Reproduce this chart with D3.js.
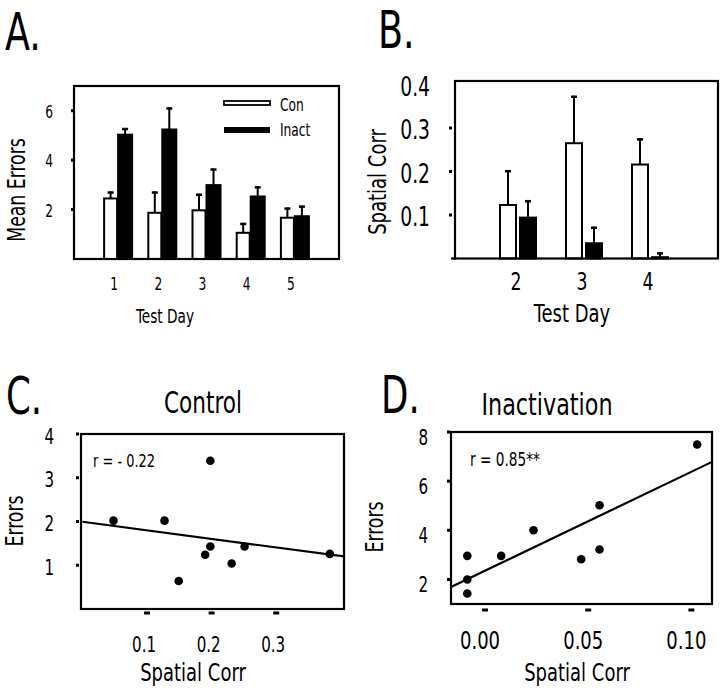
<!DOCTYPE html>
<html><head><meta charset="utf-8">
<script src="https://cdn.jsdelivr.net/npm/d3@7"></script>
<style>
body{margin:0;background:#fff}
text{font-family:"Liberation Sans Narrow","DejaVu Sans Condensed","Arial Narrow",sans-serif;fill:#000}
</style>
</head><body>
<svg id="chart" width="720" height="699"></svg>
<script>
// ---- Panel A data ----
const daysA = ["1","2","3","4","5"];
const conA = [2.45, 1.87, 1.97, 1.06, 1.67];
const conAErr = [0.28, 0.86, 0.67, 0.40, 0.41];
const inactA = [5.03, 5.24, 2.99, 2.53, 1.73];
const inactAErr = [0.27, 0.89, 0.67, 0.41, 0.43];
const yTicksA = [2, 4, 6];
const legendA = ["Con", "Inact"];

// ---- Panel B data ----
const daysB = ["2","3","4"];
const conB = [0.123, 0.265, 0.216];
const conBErr = [0.080, 0.109, 0.060];
const inactB = [0.094, 0.035, 0.003];
const inactBErr = [0.040, 0.038, 0.011];
const yTicksB = [0.1, 0.2, 0.3, 0.4];

// ---- Panel C data (Control) ----
const ctrlX = [0.048, 0.127, 0.149, 0.190, 0.198, 0.198, 0.231, 0.251, 0.383];
const ctrlY = [2.02, 2.02, 0.64, 1.24, 1.43, 3.39, 1.04, 1.43, 1.26];
const xTicksC = [0.1, 0.2, 0.3];
const yTicksC = [1, 2, 3, 4];

// ---- Panel D data (Inactivation) ----
const inX = [-0.0086, -0.0086, -0.0086, 0.0078, 0.0235, 0.0466, 0.0555, 0.0555, 0.1028];
const inY = [2.96, 2.00, 1.43, 2.96, 4.00, 2.82, 3.22, 5.02, 7.49];
const xTicksD = [0.00, 0.05, 0.10];
const yTicksD = [2, 4, 6, 8];

const svg = d3.select("#chart");
const SX = 0.8;

function txt(s, x, y, size, opt = {}) {
  const anchor = opt.anchor || "middle";
  const sx = opt.sx || SX;
  let tr = `translate(${x},${y})`;
  if (opt.rotate) tr += ` rotate(${opt.rotate})`;
  tr += ` scale(${sx},1)`;
  return svg.append("text").attr("transform", tr)
    .attr("text-anchor", anchor).attr("font-size", size).text(s);
}
// center-y based text: baseline = cy + 0.36*size
function ctxt(s, x, cy, size, opt) { return txt(s, x, cy + 0.36 * size, size, opt); }

function frame(x0, x1, y0, y1) {
  svg.append("rect").attr("x", x0).attr("y", y0).attr("width", x1 - x0).attr("height", y1 - y0)
    .attr("fill", "none").attr("stroke", "#000").attr("stroke-width", 2.2);
}

function regression(xs, ys) {
  const mx = d3.mean(xs), my = d3.mean(ys);
  let sxy = 0, sxx = 0;
  xs.forEach((x, i) => { sxy += (x - mx) * (ys[i] - my); sxx += (x - mx) * (x - mx); });
  const b = sxy / sxx;
  return { b, a: my - b * mx };
}

function bars(g, cats, vals, errs, xs, ys, off, w, filled) {
  cats.forEach((c, i) => {
    const x0 = xs(c) + xs.bandwidth() / 2 + off;
    const yTop = ys(vals[i]);
    const yBase = ys(0);
    const cx = x0 + w / 2;
    const yErr = ys(vals[i] + errs[i]);
    g.append("line").attr("x1", cx).attr("x2", cx).attr("y1", yTop).attr("y2", yErr)
      .attr("stroke", "#000").attr("stroke-width", 2);
    g.append("line").attr("x1", cx - 3).attr("x2", cx + 3).attr("y1", yErr + 1).attr("y2", yErr + 1)
      .attr("stroke", "#000").attr("stroke-width", 2.5);
    g.append("rect").attr("x", x0).attr("y", yTop).attr("width", w).attr("height", Math.max(0, yBase - yTop))
      .attr("fill", filled ? "#000" : "#fff").attr("stroke", "#000").attr("stroke-width", 2);
  });
}

// ================= Panel A =================
{
  const xA = d3.scaleBand().domain(daysA).range([96, 317]);
  const yA = d3.scaleLinear().domain([0, 7]).range([259, 86]);
  const g = svg.append("g");
  bars(g, daysA, conA, conAErr, xA, yA, -14, 13, false);
  bars(g, daysA, inactA, inactAErr, xA, yA, 0, 14, true);
  frame(74, 339, 86, 259);
  yTicksA.forEach(v => {
    svg.append("line").attr("x1", 71).attr("x2", 74).attr("y1", yA(v)).attr("y2", yA(v))
      .attr("stroke", "#000").attr("stroke-width", 3);
    ctxt(String(v), 53, yA(v) + 1, 17, { anchor: "end" });
  });
  daysA.forEach(d => ctxt(d, xA(d) + xA.bandwidth() / 2 - 4, 284, 17));
  ctxt("Test Day", 165, 316, 19);
  txt("Mean Errors", 25, 190, 24, { rotate: -90 });
  // legend
  svg.append("rect").attr("x", 224).attr("y", 101).attr("width", 46).attr("height", 4)
    .attr("fill", "#fff").attr("stroke", "#000").attr("stroke-width", 1.8);
  svg.append("rect").attr("x", 224).attr("y", 127).attr("width", 46).attr("height", 6).attr("fill", "#000");
  ctxt(legendA[0], 280, 105, 17, { anchor: "start" });
  ctxt(legendA[1], 280, 130, 17, { anchor: "start" });
  txt("A.", 5, 50, 52, { anchor: "start", sx: 0.78 });
}

// ================= Panel B =================
{
  const xB = d3.scaleBand().domain(daysB).range([485, 683]);
  const yB = d3.scaleLinear().domain([0, 0.408]).range([258.5, 81]);
  const g = svg.append("g");
  bars(g, daysB, conB, conBErr, xB, yB, -18, 16, false);
  bars(g, daysB, inactB, inactBErr, xB, yB, 2, 16, true);
  frame(455, 718, 81, 258.5);
  svg.append("line").attr("x1", 451).attr("x2", 456).attr("y1", 258.5).attr("y2", 258.5)
    .attr("stroke", "#000").attr("stroke-width", 2.2);
  yTicksB.forEach(v => {
    if (v < 0.4) svg.append("line").attr("x1", 449).attr("x2", 452).attr("y1", yB(v)).attr("y2", yB(v))
      .attr("stroke", "#000").attr("stroke-width", 3);
    ctxt(v.toFixed(1), 430, yB(v) + 2, 26, { anchor: "end" });
  });
  daysB.forEach(d => ctxt(d, xB(d) + xB.bandwidth() / 2 - 2, 281, 24));
  ctxt("Test Day", 572, 313, 25);
  txt("Spatial Corr", 386, 182, 25, { rotate: -90 });
  txt("B.", 378, 48, 52, { anchor: "start", sx: 0.78 });
}

// ================= Panel C =================
{
  const xC = d3.scaleLinear().domain([0, 0.405]).range([82.5, 344]);
  const yC = d3.scaleLinear().domain([0, 4]).range([609, 434]);
  const fit = regression(ctrlX, ctrlY);
  const dom = xC.domain();
  svg.append("line").attr("x1", xC(dom[0])).attr("x2", xC(dom[1]))
    .attr("y1", yC(fit.a + fit.b * dom[0])).attr("y2", yC(fit.a + fit.b * dom[1]))
    .attr("stroke", "#000").attr("stroke-width", 2.2);
  ctrlX.forEach((x, i) => svg.append("circle").attr("cx", xC(x)).attr("cy", yC(ctrlY[i])).attr("r", 4.3).attr("fill", "#000"));
  frame(81, 344, 434, 609);
  yTicksC.forEach(v => {
    svg.append("line").attr("x1", 76).attr("x2", 79).attr("y1", yC(v)).attr("y2", yC(v))
      .attr("stroke", "#000").attr("stroke-width", 3);
    ctxt(String(v), 54, yC(v) + 2, 21, { anchor: "end" });
  });
  xTicksC.forEach(v => {
    svg.append("line").attr("x1", xC(v) - 3).attr("x2", xC(v) + 3).attr("y1", 613).attr("y2", 613)
      .attr("stroke", "#000").attr("stroke-width", 3);
    ctxt(v.toFixed(1), xC(v) - 3, 644, 21);
  });
  ctxt("Control", 203, 402, 30);
  ctxt("Spatial Corr", 193, 672, 25);
  txt("Errors", 23, 521, 24, { rotate: -90 });
  ctxt("r =  - 0.22", 93, 461, 18, { anchor: "start" });
  txt("C.", 6, 414, 52, { anchor: "start", sx: 0.76 });
}

// ================= Panel D =================
{
  const xD = d3.scaleLinear().domain([-0.0165, 0.110]).range([451, 712]);
  const yD = d3.scaleLinear().domain([1, 8]).range([604, 432]);
  const fit = regression(inX, inY);
  const dom = xD.domain();
  svg.append("line").attr("x1", xD(dom[0])).attr("x2", xD(dom[1]))
    .attr("y1", yD(fit.a + fit.b * dom[0])).attr("y2", yD(fit.a + fit.b * dom[1]))
    .attr("stroke", "#000").attr("stroke-width", 2.2);
  inX.forEach((x, i) => svg.append("circle").attr("cx", xD(x)).attr("cy", yD(inY[i])).attr("r", 4.3).attr("fill", "#000"));
  frame(451, 712, 432, 604);
  yTicksD.forEach(v => {
    svg.append("line").attr("x1", 447).attr("x2", 450).attr("y1", yD(v)).attr("y2", yD(v))
      .attr("stroke", "#000").attr("stroke-width", 3);
    ctxt(String(v), 428, yD(v) + 5, 21, { anchor: "end" });
  });
  xTicksD.forEach(v => {
    svg.append("line").attr("x1", xD(v) - 3).attr("x2", xD(v) + 3).attr("y1", 610).attr("y2", 610)
      .attr("stroke", "#000").attr("stroke-width", 3);
    ctxt(v.toFixed(2), xD(v) - 5, 640, 25);
  });
  ctxt("Inactivation", 547, 404, 31);
  ctxt("Spatial Corr", 577, 672, 25);
  txt("Errors", 383, 527, 24, { rotate: -90 });
  ctxt("r = 0.85**", 470, 459, 19, { anchor: "start" });
  txt("D.", 381, 413, 52, { anchor: "start", sx: 0.76 });
}
</script>
</body></html>
